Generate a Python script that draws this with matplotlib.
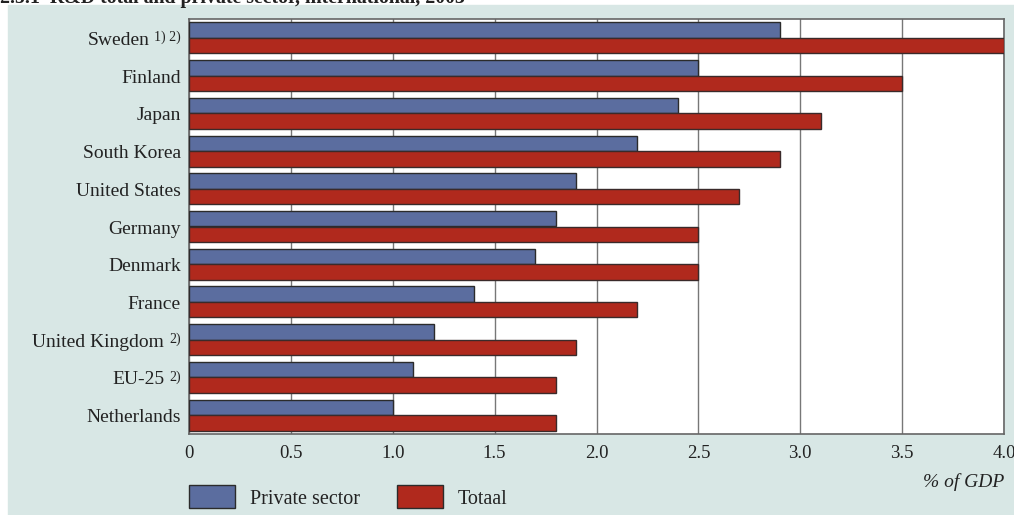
import matplotlib.pyplot as plt
from matplotlib.patches import Rectangle
import numpy as np

countries = ["Sweden", "Finland", "Japan", "South Korea", "United States", "Germany",
             "Denmark", "France", "United Kingdom", "EU-25", "Netherlands"]
notes = ["1) 2)", "", "", "", "", "", "", "", "2)", "2)", ""]
private_sector = [2.9, 2.5, 2.4, 2.2, 1.9, 1.8, 1.7, 1.4, 1.2, 1.1, 1.0]
totaal = [4.0, 3.5, 3.1, 2.9, 2.7, 2.5, 2.5, 2.2, 1.9, 1.8, 1.8]
xticks = [0, 0.5, 1.0, 1.5, 2.0, 2.5, 3.0, 3.5, 4.0]
xtick_labels = ["0", "0.5", "1.0", "1.5", "2.0", "2.5", "3.0", "3.5", "4.0"]

BLUE = "#5b6d9f"
RED = "#b0291d"
PANEL = "#d8e7e5"
TXT = "#222222"
plt.rcParams["font.family"] = ["Liberation Serif", "DejaVu Serif"]

W, H = 1014, 515
fig = plt.figure(figsize=(W / 100, H / 100), dpi=100)
fig.patches.append(Rectangle((8 / W, 0), 1, 1 - 5 / H, transform=fig.transFigure,
                             color=PANEL, zorder=-5))
fig.text(0.0, 1 - 3 / H, "2.5.1  R&D total and private sector, international, 2003",
         fontsize=14.3, fontweight="bold", va="baseline", color=TXT)

ax = fig.add_axes([189 / W, 1 - 434 / H, (1004 - 189) / W, (434 - 19) / H])
ax.set_facecolor("white")

y = np.arange(len(countries))
h = 0.41
ax.barh(y - h / 2, private_sector, height=h, color=BLUE, edgecolor="#2b2b2b",
        linewidth=1.0, zorder=3)
ax.barh(y + h / 2, totaal, height=h, color=RED, edgecolor="#3a2a2a",
        linewidth=1.0, zorder=3)

ax.set_ylim(len(countries) - 0.5, -0.5)
ax.set_xlim(0, 4.0)
ax.set_xticks(xticks)
ax.set_xticklabels(xtick_labels, fontsize=13.5, color=TXT)
ax.tick_params(axis="x", length=0, pad=8)
ax.set_yticks([])
ax.grid(axis="x", color="#777777", linewidth=1.0, zorder=0)
ax.set_axisbelow(True)
for s in ax.spines.values():
    s.set_color("#666666")
    s.set_linewidth(1.2)

# country labels; footnote markers in small raised text after the name
renderer = fig.canvas.get_renderer()
label_tr = ax.get_yaxis_transform()
for yi, name, note in zip(y, countries, notes):
    shift = 8
    if note:
        nt = ax.annotate(note, xy=(0, yi), xycoords=label_tr, xytext=(-8, -3),
                         textcoords="offset pixels", ha="right", va="baseline",
                         fontsize=10, color=TXT)
        shift = 8 + nt.get_window_extent(renderer).width + 5
    ax.annotate(name, xy=(0, yi), xycoords=label_tr, xytext=(-shift, -7),
                textcoords="offset pixels", ha="right", va="baseline",
                fontsize=14, color=TXT)

fig.text(1004 / W, 1 - 482 / H, "% of GDP", style="italic", fontsize=14,
         ha="right", va="center", color=TXT)

# legend drawn as plain patches
for x0, col, lab in [(189, BLUE, "Private sector"), (397, RED, "Totaal")]:
    fig.patches.append(Rectangle((x0 / W, 1 - 508 / H), 46 / W, 23 / H,
                                 transform=fig.transFigure, facecolor=col,
                                 edgecolor="#2b2b2b", linewidth=1.0))
    fig.text((x0 + 61) / W, 1 - 500 / H, lab, fontsize=14.5, va="center",
             color=TXT)

fig.savefig("out.png", dpi=100)
